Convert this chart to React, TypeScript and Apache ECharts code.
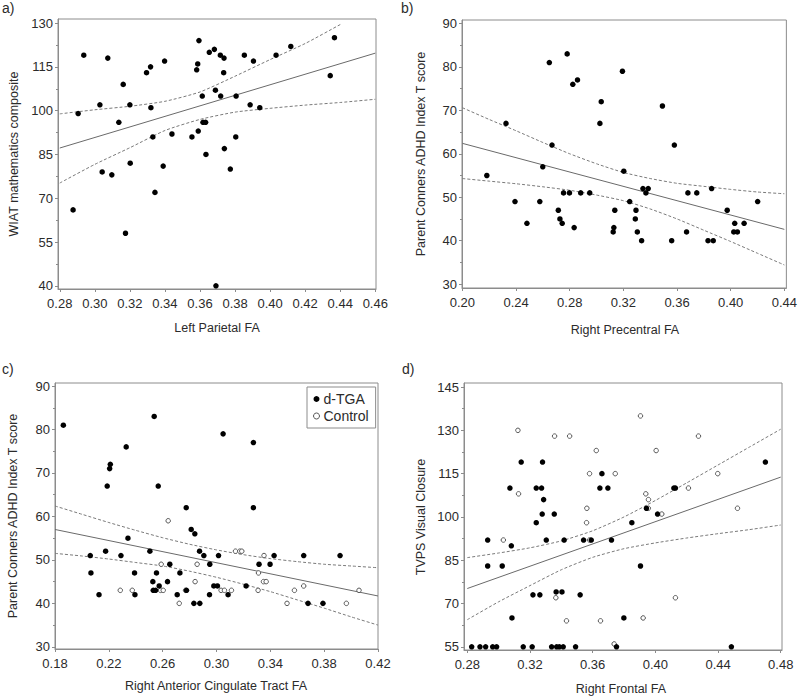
import React, { useEffect, useRef } from "react";
import * as echarts from "echarts";

// ---------- Panel a: Left Parietal FA vs WIAT mathematics composite ----------
const aPoints: [number, number][] = [
  [0.2876, 66], [0.2905, 99], [0.2937, 119], [0.3029, 102], [0.3042, 79], [0.3074, 118], [0.3097, 78],
  [0.3137, 96], [0.3162, 109], [0.3175, 58], [0.32, 102], [0.3202, 82], [0.3295, 113], [0.3318, 115],
  [0.332, 101], [0.3331, 91], [0.3343, 72], [0.339, 81], [0.3398, 117], [0.344, 92], [0.3554, 91],
  [0.3581, 114], [0.3587, 116], [0.359, 93], [0.3594, 124], [0.3613, 105], [0.3617, 96], [0.3632, 96],
  [0.3634, 85], [0.3653, 120], [0.3682, 121], [0.3688, 107], [0.3691, 40], [0.3716, 119], [0.3718, 105],
  [0.3735, 113], [0.3737, 118], [0.3739, 87], [0.3773, 80], [0.3804, 91], [0.3806, 105], [0.3853, 119],
  [0.3886, 102], [0.3905, 117], [0.3941, 101], [0.4034, 119], [0.4118, 122], [0.4343, 112], [0.4367, 125],
];
const aFitX = [0.28, 0.46];
const aFitY = [87.2, 119.7];
const aUpperX = [0.28, 0.3, 0.32, 0.34, 0.36, 0.38, 0.4, 0.42, 0.44, 0.441];
const aUpperY = [98.9, 100.3, 101.5, 103.2, 106.4, 111.8, 117.5, 123.0, 129.5, 129.8];
const aLowerX = [0.28, 0.3, 0.32, 0.34, 0.36, 0.38, 0.4, 0.42, 0.44, 0.46];
const aLowerY = [75.2, 81.6, 87.3, 93.2, 97.0, 99.5, 100.8, 101.9, 102.8, 103.9];
const aXTicks = [0.28, 0.3, 0.32, 0.34, 0.36, 0.38, 0.4, 0.42, 0.44, 0.46];
const aYTicks = [40, 55, 70, 85, 100, 115, 130];
const aYMinor = [47.5, 62.5, 77.5, 92.5, 107.5, 122.5];

// ---------- Panel b: Right Precentral FA vs Parent Conners ADHD ----------
const bPoints: [number, number][] = [
  [0.2182, 55], [0.2325, 67], [0.2392, 49], [0.2481, 44], [0.2577, 49], [0.2599, 57], [0.2648, 81],
  [0.2668, 62], [0.2715, 47], [0.2727, 45], [0.2744, 44], [0.2754, 51], [0.2781, 83], [0.2798, 51],
  [0.2823, 76], [0.2833, 43], [0.2858, 77], [0.2882, 51], [0.2949, 51], [0.3025, 67], [0.3035, 72],
  [0.3124, 42], [0.3129, 43], [0.3136, 47], [0.3193, 79], [0.3203, 56], [0.3247, 49], [0.3289, 45],
  [0.3294, 47], [0.3304, 42], [0.3336, 40], [0.3346, 52], [0.3368, 51], [0.3385, 52], [0.3491, 71],
  [0.356, 40], [0.358, 62], [0.3671, 42], [0.3681, 51], [0.3747, 51], [0.3831, 40], [0.3858, 52],
  [0.387, 40], [0.3974, 47], [0.4023, 42], [0.403, 44], [0.405, 42], [0.41, 44], [0.4201, 49],
];
const bFitX = [0.2, 0.44];
const bFitY = [62.4, 42.6];
const bCiX = [0.2, 0.22, 0.24, 0.26, 0.28, 0.3, 0.32, 0.34, 0.36, 0.38, 0.4, 0.42, 0.44];
const bUpperY = [70.6, 67.9, 65.3, 62.6, 60.0, 57.7, 55.7, 54.3, 53.2, 52.5, 51.8, 51.2, 50.8];
const bLowerY = [54.3, 53.7, 53.1, 52.4, 51.6, 50.5, 49.2, 47.3, 45.0, 42.4, 39.8, 37.1, 34.4];
const bXTicks = [0.2, 0.24, 0.28, 0.32, 0.36, 0.4, 0.44];
const bYTicks = [30, 40, 50, 60, 70, 80, 90];
const bYMinor = [35, 45, 55, 65, 75, 85];

// ---------- Panel c: Right Anterior Cingulate Tract FA vs Parent Conners ADHD ----------
const cTga: [number, number][] = [
  [0.1862, 81], [0.2062, 51], [0.2067, 47], [0.2127, 42], [0.2176, 52], [0.2188, 67], [0.2206, 71],
  [0.2211, 72], [0.229, 51], [0.2329, 76], [0.2342, 55], [0.2391, 47], [0.2394, 42], [0.2505, 52],
  [0.2527, 45], [0.253, 43], [0.2537, 83], [0.2547, 43], [0.2554, 47], [0.2567, 67], [0.2574, 44],
  [0.2636, 45], [0.2653, 49], [0.2708, 42], [0.2728, 47], [0.2775, 62], [0.2777, 43], [0.2812, 57],
  [0.2832, 40], [0.2839, 56], [0.2874, 52], [0.2876, 40], [0.2906, 51], [0.2948, 42], [0.295, 49],
  [0.298, 44], [0.3007, 44], [0.3015, 51], [0.3049, 79], [0.3086, 42], [0.322, 44], [0.3274, 77],
  [0.3274, 62], [0.3316, 49], [0.3398, 49], [0.3428, 51], [0.3648, 51], [0.368, 40], [0.3791, 40],
  [0.3918, 51],
];
const cControl: [number, number][] = [
  [0.2285, 43], [0.2374, 43], [0.2584, 43], [0.2604, 43], [0.2589, 49], [0.2641, 59], [0.2723, 40],
  [0.277, 43], [0.2841, 45], [0.2856, 49], [0.3034, 43], [0.3059, 43], [0.3111, 43], [0.3141, 52],
  [0.3173, 52], [0.3188, 52], [0.3309, 43], [0.3312, 47], [0.3353, 51], [0.3349, 45], [0.3369, 45],
  [0.3524, 40], [0.3579, 43], [0.3648, 44], [0.3965, 40], [0.4059, 43],
];
const cFitX = [0.18, 0.42];
const cFitY = [57.0, 41.7];
const cCiX = [0.18, 0.2, 0.22, 0.24, 0.26, 0.28, 0.3, 0.32, 0.34, 0.36, 0.38, 0.4, 0.42];
const cUpperY = [62.4, 60.5, 58.6, 56.8, 55.1, 53.6, 52.3, 51.2, 50.3, 49.6, 49.0, 48.6, 48.2];
const cLowerY = [51.5, 50.9, 50.2, 49.4, 48.6, 47.4, 46.0, 44.4, 42.7, 40.8, 38.9, 36.9, 35.0];
const cXTicks = [0.18, 0.22, 0.26, 0.3, 0.34, 0.38, 0.42];
const cYTicks = [30, 40, 50, 60, 70, 80, 90];
const cYMinor = [35, 45, 55, 65, 75, 85];

// ---------- Panel d: Right Frontal FA vs TVPS Visual Closure ----------
const dTga: [number, number][] = [
  [0.2828, 55], [0.2881, 55], [0.2917, 55], [0.2962, 55], [0.2987, 55], [0.3157, 55], [0.3214, 55],
  [0.3338, 55], [0.337, 55], [0.3387, 55], [0.3412, 55], [0.3491, 55], [0.3752, 55], [0.4485, 55],
  [0.293, 92], [0.293, 83], [0.3023, 83], [0.3072, 110], [0.3081, 90], [0.3085, 65], [0.3144, 119],
  [0.3219, 73], [0.324, 98], [0.324, 110], [0.3263, 73], [0.3274, 110], [0.328, 119], [0.3287, 106],
  [0.3278, 101], [0.3304, 92], [0.3355, 101], [0.3367, 74], [0.3404, 74], [0.3418, 92], [0.352, 73],
  [0.3542, 92], [0.3591, 92], [0.3646, 110], [0.3659, 115], [0.3697, 110], [0.372, 92], [0.3799, 65],
  [0.385, 98], [0.3905, 83], [0.3943, 103], [0.4014, 101], [0.4118, 110], [0.4128, 110], [0.4702, 119],
];
const dControl: [number, number][] = [
  [0.303, 92], [0.3123, 130], [0.3127, 108], [0.3357, 128], [0.3365, 72], [0.3433, 64], [0.3453, 128],
  [0.3561, 98], [0.3563, 103], [0.358, 115], [0.358, 92], [0.3623, 123], [0.365, 64], [0.3737, 56],
  [0.3744, 115], [0.3905, 135], [0.3922, 65], [0.3939, 108], [0.3956, 106], [0.3955, 103], [0.4005, 123],
  [0.4041, 101], [0.4128, 72], [0.4211, 110], [0.4275, 128], [0.4398, 115], [0.4524, 103],
];
const dFitX = [0.28, 0.48];
const dFitY = [75.2, 113.8];
const dCiX = [0.28, 0.3, 0.32, 0.34, 0.36, 0.38, 0.4, 0.42, 0.44, 0.46, 0.48];
const dUpperY = [85.9, 87.5, 89.3, 91.7, 95.2, 100.0, 105.7, 111.8, 118.0, 124.2, 130.4];
const dLowerY = [64.4, 70.6, 76.2, 81.7, 86.0, 89.0, 91.0, 92.7, 94.2, 95.6, 97.2];
const dXTicks = [0.28, 0.32, 0.36, 0.4, 0.44, 0.48];
const dYTicks = [55, 70, 85, 100, 115, 130, 145];
const dYMinor = [62.5, 77.5, 92.5, 107.5, 122.5, 137.5];

// ---------- Texts ----------
const panelLabels = ["a)", "b)", "c)", "d)"];
const xTitles = ["Left Parietal FA", "Right Precentral FA", "Right Anterior Cingulate Tract FA", "Right Frontal FA"];
const yTitles = [
  "WIAT mathematics composite",
  "Parent Conners ADHD Index T score",
  "Parent Conners ADHD Index T score",
  "TVPS Visual Closure",
];
const legendNames = ["d-TGA", "Control"];

const FONT = "'Liberation Sans', Arial, Helvetica, sans-serif";
const AXIS_COLOR = "#8c8c8c";
const TEXT_COLOR = "#2b2b2b";

const zip = (xs: number[], ys: number[]) => xs.map((x, i) => [x, ys[i]]);

type Layout = {
  left: number; top: number; width: number; height: number;
  xMin: number; xMax: number; yMin: number; yMax: number;
  xTicks: number[]; yTicks: number[]; yMinor: number[];
};

const layouts: Layout[] = [
  { left: 58, top: 19, width: 318, height: 270, xMin: 0.279, xMax: 0.4604, yMin: 38.9, yMax: 131.4, xTicks: aXTicks, yTicks: aYTicks, yMinor: aYMinor },
  { left: 462, top: 20, width: 327, height: 268, xMin: 0.1997, xMax: 0.4415, yMin: 29.1, yMax: 90.8, xTicks: bXTicks, yTicks: bYTicks, yMinor: bYMinor },
  { left: 55, top: 383, width: 323, height: 266, xMin: 0.18, xMax: 0.42, yMin: 29.5, yMax: 90.7, xTicks: cXTicks, yTicks: cYTicks, yMinor: cYMinor },
  { left: 464, top: 383, width: 318, height: 267, xMin: 0.2779, xMax: 0.4808, yMin: 53.9, yMax: 146.4, xTicks: dXTicks, yTicks: dYTicks, yMinor: dYMinor },
];

const labelPos = [
  { x: 2, y: 1 }, { x: 401, y: 1 }, { x: 2, y: 362 }, { x: 402, y: 362 },
];
const xTitlePos = [
  { x: 217, y: 328 }, { x: 625, y: 330 }, { x: 216, y: 686 }, { x: 621, y: 689 },
];
const yTitlePos = [
  { x: 14, y: 154 }, { x: 421, y: 154 }, { x: 13, y: 516 }, { x: 421, y: 517 },
];

function buildOption() {
  const grid = layouts.map((l) => ({
    left: l.left, top: l.top, width: l.width, height: l.height,
    show: true, borderColor: AXIS_COLOR, borderWidth: 1, containLabel: false,
  }));

  const xAxis = layouts.map((l, i) => ({
    type: "value", gridIndex: i, min: l.xMin, max: l.xMax, position: "bottom",
    splitLine: { show: false },
    axisLine: { show: true, onZero: false, lineStyle: { color: AXIS_COLOR, width: 1 } },
    axisTick: { show: true, customValues: l.xTicks, length: 3, lineStyle: { color: AXIS_COLOR } },
    axisLabel: {
      customValues: l.xTicks, margin: 8, fontSize: 13, color: TEXT_COLOR, fontFamily: FONT,
      formatter: (v: number) => v.toFixed(2),
    },
  }));

  const yMain = layouts.map((l, i) => ({
    type: "value", gridIndex: i, min: l.yMin, max: l.yMax, position: "left",
    splitLine: { show: false },
    axisLine: { show: true, onZero: false, lineStyle: { color: AXIS_COLOR, width: 1 } },
    axisTick: { show: true, customValues: l.yTicks, length: 3, lineStyle: { color: AXIS_COLOR } },
    axisLabel: {
      customValues: l.yTicks, margin: 5, fontSize: 13, color: TEXT_COLOR, fontFamily: FONT,
      formatter: (v: number) => String(Math.round(v)),
    },
  }));
  const yMinor = layouts.map((l, i) => ({
    type: "value", gridIndex: i, min: l.yMin, max: l.yMax, position: "left", offset: 0,
    splitLine: { show: false },
    axisLine: { show: false, onZero: false },
    axisTick: { show: true, customValues: l.yMinor, length: 2, lineStyle: { color: AXIS_COLOR } },
    axisLabel: { show: false },
  }));

  const series: any[] = [];
  const addLines = (i: number, fit: number[][], up: number[][], lo: number[][]) => {
    series.push({
      type: "line", xAxisIndex: i, yAxisIndex: i, data: fit, showSymbol: false, silent: true,
      lineStyle: { color: "#6a6a6a", width: 1 }, z: 2,
    });
    for (const d of [up, lo]) {
      series.push({
        type: "line", xAxisIndex: i, yAxisIndex: i, data: d, showSymbol: false, silent: true,
        smooth: 0.2, lineStyle: { color: "#7a7a7a", width: 1, type: [3, 2] }, z: 2,
      });
    }
  };
  const filled = (i: number, data: number[][], name?: string) => ({
    type: "scatter", name, xAxisIndex: i, yAxisIndex: i, data, symbol: "circle", symbolSize: 5.5,
    itemStyle: { color: "#000", opacity: 1 }, silent: true, z: 4,
  });
  const open = (i: number, data: number[][], name?: string) => ({
    type: "scatter", name, xAxisIndex: i, yAxisIndex: i, data, symbol: "circle", symbolSize: 4.5,
    itemStyle: { color: "#fff", borderColor: "#555", borderWidth: 1, opacity: 1 }, silent: true, z: 4,
  });

  addLines(0, zip(aFitX, aFitY), zip(aUpperX, aUpperY), zip(aLowerX, aLowerY));
  series.push(filled(0, aPoints));
  addLines(1, zip(bFitX, bFitY), zip(bCiX, bUpperY), zip(bCiX, bLowerY));
  series.push(filled(1, bPoints));
  addLines(2, zip(cFitX, cFitY), zip(cCiX, cUpperY), zip(cCiX, cLowerY));
  series.push(open(2, cControl, legendNames[1]));
  series.push(filled(2, cTga, legendNames[0]));
  addLines(3, zip(dFitX, dFitY), zip(dCiX, dUpperY), zip(dCiX, dLowerY));
  series.push(open(3, dControl, legendNames[1]));
  series.push(filled(3, dTga, legendNames[0]));

  const graphic: any[] = [];
  panelLabels.forEach((t, i) => {
    graphic.push({
      type: "text", x: labelPos[i].x, y: labelPos[i].y, silent: true,
      style: { text: t, fontSize: 14, fontFamily: FONT, fill: TEXT_COLOR, align: "left", verticalAlign: "top" },
    });
  });
  xTitles.forEach((t, i) => {
    graphic.push({
      type: "text", x: xTitlePos[i].x, y: xTitlePos[i].y, silent: true,
      style: { text: t, fontSize: 12.5, fontFamily: FONT, fill: TEXT_COLOR, align: "center", verticalAlign: "middle" },
    });
  });
  yTitles.forEach((t, i) => {
    graphic.push({
      type: "text", x: yTitlePos[i].x, y: yTitlePos[i].y, rotation: Math.PI / 2, silent: true,
      style: { text: t, fontSize: 12.5, fontFamily: FONT, fill: TEXT_COLOR, align: "center", verticalAlign: "middle" },
    });
  });

  return {
    animation: false,
    backgroundColor: "#fff",
    grid,
    xAxis,
    yAxis: [...yMain, ...yMinor],
    legend: {
      show: true, selectedMode: false, orient: "vertical", left: 307, top: 387,
      borderColor: "#8c8c8c", borderWidth: 1, padding: [5, 7, 5, 6], itemGap: 3,
      itemWidth: 6, itemHeight: 6,
      textStyle: { fontSize: 14, color: TEXT_COLOR, fontFamily: FONT, padding: [0, 0, 0, -1] },
      data: [
        { name: legendNames[0], icon: "circle", itemStyle: { color: "#000", borderWidth: 0 } },
        { name: legendNames[1], icon: "circle", itemStyle: { color: "#fff", borderColor: "#555", borderWidth: 1 } },
      ],
    },
    graphic,
    series,
  };
}

export default function App() {
  const ref = useRef<HTMLDivElement>(null);
  useEffect(() => {
    if (!ref.current) return;
    const chart = echarts.init(ref.current, null, { renderer: "svg" });
    chart.setOption(buildOption() as any);
    return () => chart.dispose();
  }, []);
  return (
    <div
      ref={ref}
      style={{ position: "fixed", left: 0, top: 0, width: 800, height: 699, background: "#fff" }}
    />
  );
}
